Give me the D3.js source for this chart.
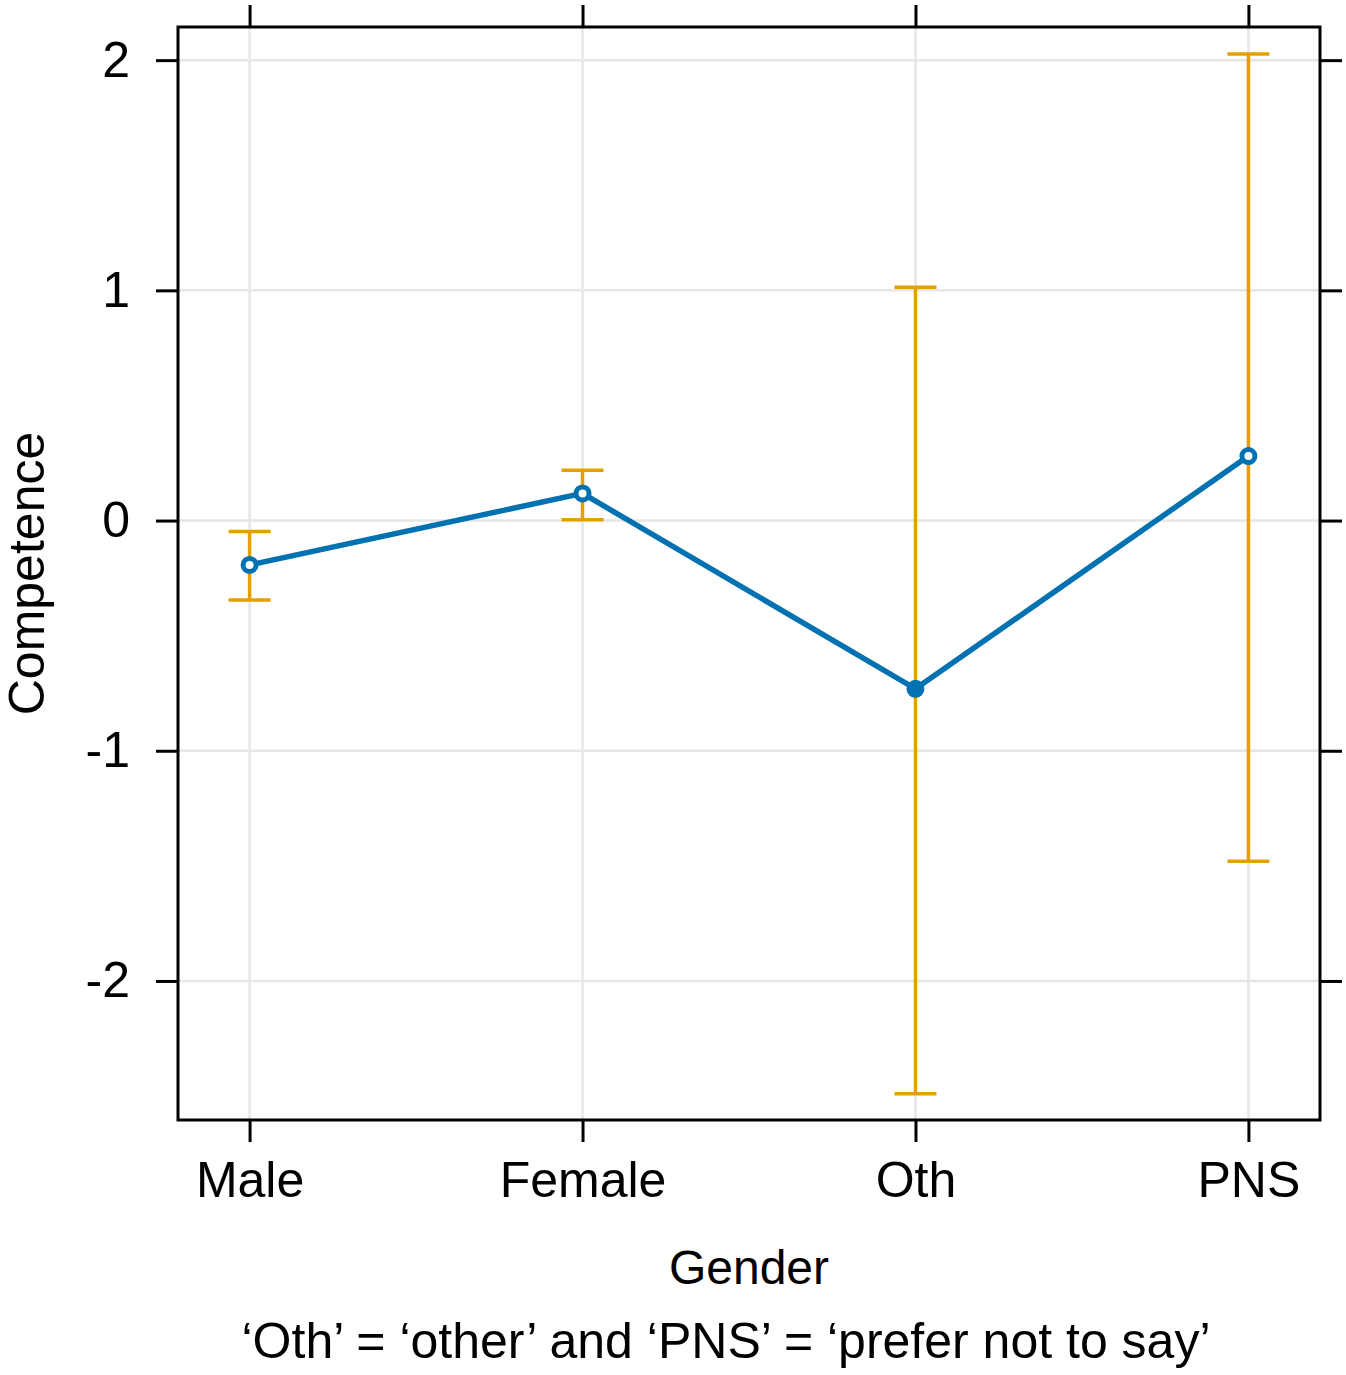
<!DOCTYPE html>
<html>
<head>
<meta charset="utf-8">
<script src="https://cdn.jsdelivr.net/npm/d3@7"></script>
<style>
  html, body { margin: 0; padding: 0; background: #fff; }
  text { font-family: "Liberation Sans", Arial, sans-serif; fill: #000; }
</style>
</head>
<body>
<svg id="chart" width="1346" height="1375"></svg>
<script>
const categories = ["Male", "Female", "Oth", "PNS"];
const estimates  = [-0.193, 0.118, -0.731, 0.28];
const lowerCI    = [-0.345, 0.003, -2.49, -1.48];
const upperCI    = [-0.048, 0.218, 1.014, 2.027];
const yTicks     = [-2, -1, 0, 1, 2];
const xTitle = "Gender";
const yTitle = "Competence";
const caption = "\u2018Oth\u2019 = \u2018other\u2019 and \u2018PNS\u2019 = \u2018prefer not to say\u2019";

(function () {
const svg = d3.select("#chart");
const L = 178, R = 1320, T = 27, B = 1120;

const x = d3.scalePoint().domain(categories).range([L, R]).padding(0.215);
const y = d3.scaleLinear().domain([-2.604, 2.144]).range([B, T]);

const blue = "#0072B2", orange = "#E69F00", grid = "#e6e6e6";

// gridlines
svg.append("g").selectAll("line").data(yTicks).join("line")
  .attr("x1", L).attr("x2", R).attr("y1", d => y(d)).attr("y2", d => y(d))
  .attr("stroke", grid).attr("stroke-width", 2.5);
svg.append("g").selectAll("line").data(categories).join("line")
  .attr("x1", d => x(d)).attr("x2", d => x(d)).attr("y1", T).attr("y2", B)
  .attr("stroke", grid).attr("stroke-width", 2.5);

// axes (lattice style: ticks on all sides, outside)
const tickLen = 22;
const axLeft = d3.axisLeft(y).tickValues(yTicks).tickSize(tickLen).tickPadding(26)
  .tickFormat(d => d < 0 ? "-" + Math.abs(d) : String(d));
const axRight = d3.axisRight(y).tickValues(yTicks).tickSize(tickLen).tickFormat("");
const axBottom = d3.axisBottom(x).tickSize(tickLen).tickPadding(19);
const axTop = d3.axisTop(x).tickSize(tickLen).tickFormat("");

function style(g) {
  g.select(".domain").remove();
  g.selectAll(".tick line").attr("stroke", "#000").attr("stroke-width", 3);
  g.selectAll(".tick text").attr("font-size", 50).attr("fill", "#000")
    .attr("font-family", "Liberation Sans, Arial, sans-serif");
}
svg.append("g").attr("transform", `translate(${L},0)`).call(axLeft).call(style);
svg.append("g").attr("transform", `translate(${R},0)`).call(axRight).call(style);
svg.append("g").attr("transform", `translate(0,${B})`).call(axBottom).call(style);
svg.append("g").attr("transform", `translate(0,${T})`).call(axTop).call(style);

// frame
svg.append("rect").attr("x", L).attr("y", T).attr("width", R - L).attr("height", B - T)
  .attr("fill", "none").attr("stroke", "#000").attr("stroke-width", 3);

// error bars
const data = categories.map((c, i) => ({c, est: estimates[i], lo: lowerCI[i], hi: upperCI[i]}));
const cap = 21;
const eb = svg.append("g").attr("stroke", orange).attr("stroke-width", 3.5);
eb.selectAll(".v").data(data).join("line").attr("class", "v")
  .attr("x1", d => x(d.c)).attr("x2", d => x(d.c))
  .attr("y1", d => y(d.lo)).attr("y2", d => y(d.hi));
eb.selectAll(".t").data(data).join("line").attr("class", "t")
  .attr("x1", d => x(d.c) - cap).attr("x2", d => x(d.c) + cap)
  .attr("y1", d => y(d.hi)).attr("y2", d => y(d.hi));
eb.selectAll(".b").data(data).join("line").attr("class", "b")
  .attr("x1", d => x(d.c) - cap).attr("x2", d => x(d.c) + cap)
  .attr("y1", d => y(d.lo)).attr("y2", d => y(d.lo));

// line
svg.append("path").datum(data)
  .attr("d", d3.line().x(d => x(d.c)).y(d => y(d.est)))
  .attr("fill", "none").attr("stroke", blue).attr("stroke-width", 5.5);

// points
svg.append("g").selectAll("circle").data(data).join("circle")
  .attr("cx", d => x(d.c)).attr("cy", d => y(d.est)).attr("r", 6.5)
  .attr("fill", d => d.c === "Oth" ? blue : "#fff")
  .attr("stroke", blue).attr("stroke-width", 5);

// titles
svg.append("text").attr("x", (L + R) / 2).attr("y", 1284)
  .attr("text-anchor", "middle").attr("font-size", 48).text(xTitle);
svg.append("text").attr("transform", `translate(44,${(T + B) / 2}) rotate(-90)`)
  .attr("text-anchor", "middle").attr("font-size", 50).text(yTitle);
svg.append("text").attr("x", 726).attr("y", 1358)
  .attr("text-anchor", "middle").attr("font-size", 50).text(caption);
})();
</script>
</body>
</html>
